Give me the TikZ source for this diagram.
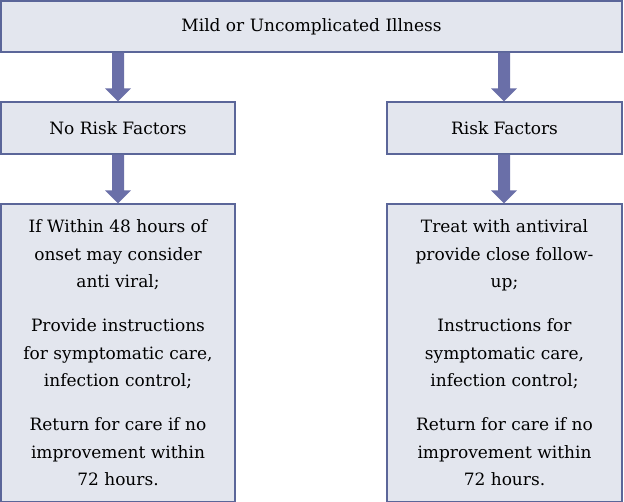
\documentclass[tikz,border=0pt]{standalone}
\usepackage{fontspec}
\setmainfont{DejaVu Serif}
\definecolor{boxfill}{HTML}{E3E6EE}
\definecolor{boxline}{HTML}{5B6699}
\definecolor{arr}{HTML}{6A6FA8}
\begin{document}
\begin{tikzpicture}[x=1pt,y=-1pt,
  bx/.style={draw=boxline,fill=boxfill,line width=1.2pt,inner sep=0pt,font=\fontsize{17}{27.5}\selectfont},
  fat/.style={draw=none,fill=arr}]
\useasboundingbox (0,0) rectangle (624,502);
\node[bx,minimum width=621pt,minimum height=51pt] (top) at (311.5,26.5) {Mild or Uncomplicated Illness};
\node[bx,minimum width=234pt,minimum height=52pt] (nrf) at (118,128) {No Risk Factors};
\node[bx,minimum width=235pt,minimum height=52pt] (rf) at (504.5,128) {Risk Factors};
\node[bx,minimum width=234pt,minimum height=298pt,align=center] (lt) at (118,353) {If Within 48 hours of\\onset may consider\\anti viral;\\[16.5pt]Provide instructions\\for symptomatic care,\\infection control;\\[16.5pt]Return for care if no\\improvement within\\72 hours.};
\node[bx,minimum width=235pt,minimum height=298pt,align=center] (rt) at (504.5,353) {Treat with antiviral\\provide close follow-\\up;\\[16.5pt]Instructions for\\symptomatic care,\\infection control;\\[16.5pt]Return for care if no\\improvement within\\72 hours.};
\foreach \s/\e/\x in {top/nrf/118,top/rf/504,nrf/lt/118,rf/rt/504}{
  \path (\s.south) coordinate (a);
  \path (\e.north) coordinate (b);
  \fill[arr] (\x-6,0|-a) -- (\x+6,0|-a) -- ([yshift=13pt]\x+6,0|-b) -- ([yshift=13pt]\x+13,0|-b) -- (\x,0|-b) -- ([yshift=13pt]\x-13,0|-b) -- ([yshift=13pt]\x-6,0|-b) -- cycle;
}
\end{tikzpicture}
\end{document}
